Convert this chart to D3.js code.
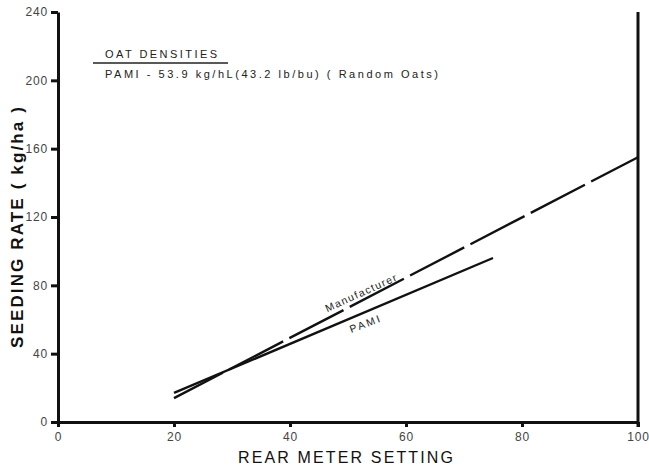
<!DOCTYPE html>
<html><head><meta charset="utf-8">
<script src="https://cdn.jsdelivr.net/npm/d3@7"></script>
<style>
body{margin:0;background:#fff;}
svg{display:block;}
</style></head>
<body>
<script>
// Data
const xTicks = [0, 20, 40, 60, 80, 100];
const yTicks = [0, 40, 80, 120, 160, 200, 240];
const manufacturerX = [20, 100];
const manufacturerY = [14, 155];
const pamiX = [20, 75];
const pamiY = [17, 96];
const titleText = "OAT DENSITIES";
const subtitleText = "PAMI - 53.9 kg/hL(43.2 lb/bu) ( Random Oats)";
const xLabel = "REAR METER SETTING";
const yLabel = "SEEDING RATE ( kg/ha )";

const W = 649, H = 467;
const svg = d3.select("body").append("svg").attr("width", W).attr("height", H);

const x = d3.scaleLinear().domain([0, 100]).range([58, 638]);
const y = d3.scaleLinear().domain([0, 240]).range([422, 12]);

const font = "'Liberation Sans', Arial, sans-serif";

// X axis
const gx = svg.append("g").attr("transform", `translate(0,${y(0)})`)
  .call(d3.axisBottom(x).tickValues(xTicks).tickSize(5).tickPadding(5).tickSizeOuter(0));
gx.select(".domain").attr("stroke", "#111").attr("stroke-width", 3);
gx.selectAll(".tick line").attr("stroke", "#111").attr("stroke-width", 3);
gx.selectAll(".tick text").attr("font-family", font).attr("font-size", 12).attr("letter-spacing", 0.8).attr("fill", "#444");

// Y axis
const gy = svg.append("g").attr("transform", `translate(${x(0)},0)`)
  .call(d3.axisLeft(y).tickValues(yTicks).tickSize(7).tickPadding(3).tickSizeOuter(0));
gy.select(".domain").attr("stroke", "#111").attr("stroke-width", 3);
gy.selectAll(".tick line").attr("stroke", "#111").attr("stroke-width", 3);
gy.selectAll(".tick text").attr("font-family", font).attr("font-size", 12).attr("letter-spacing", 0.8).attr("fill", "#444");

// Right frame line
svg.append("line")
  .attr("x1", x(100)).attr("x2", x(100))
  .attr("y1", y(0) + 5).attr("y2", y(240))
  .attr("stroke", "#111").attr("stroke-width", 3);

// Lines
const line = d3.line().x(d => x(d[0])).y(d => y(d[1]));
const manu = manufacturerX.map((v, i) => [v, manufacturerY[i]]);
const pami = pamiX.map((v, i) => [v, pamiY[i]]);

svg.append("path").datum(pami).attr("d", line)
  .attr("fill", "none").attr("stroke", "#111").attr("stroke-width", 2.4);
svg.append("path").datum(manu).attr("d", line)
  .attr("fill", "none").attr("stroke", "#111").attr("stroke-width", 2.4)
  .attr("stroke-dasharray", "61,7").attr("stroke-dashoffset", 6);

// Line labels
function angleOf(pts) {
  const dx = x(pts[1][0]) - x(pts[0][0]);
  const dy = y(pts[1][1]) - y(pts[0][1]);
  return Math.atan2(dy, dx) * 180 / Math.PI;
}
svg.append("text")
  .attr("transform", `translate(363,296) rotate(${angleOf(manu) + 3})`)
  .attr("text-anchor", "middle")
  .attr("font-family", font).attr("font-size", 10.5).attr("letter-spacing", 1.4)
  .attr("fill", "#222").text("Manufacturer");
svg.append("text")
  .attr("transform", `translate(367,327) rotate(${angleOf(pami) + 2})`)
  .attr("text-anchor", "middle")
  .attr("font-family", font).attr("font-size", 10.5).attr("letter-spacing", 2.2)
  .attr("fill", "#222").text("PAMI");

// Legend block
svg.append("text").attr("x", 105).attr("y", 58)
  .attr("font-family", font).attr("font-size", 11).attr("fill", "#222")
  .attr("textLength", 112).attr("lengthAdjust", "spacing").text(titleText);
svg.append("line").attr("x1", 93).attr("x2", 228).attr("y1", 63).attr("y2", 63)
  .attr("stroke", "#222").attr("stroke-width", 1.3);
svg.append("text").attr("x", 105).attr("y", 78)
  .attr("font-family", font).attr("font-size", 11).attr("fill", "#222")
  .attr("textLength", 333).attr("lengthAdjust", "spacing").text(subtitleText);

// Axis titles
svg.append("text").attr("x", 238).attr("y", 463)
  .attr("font-family", font).attr("font-size", 16).attr("fill", "#111")
  .attr("textLength", 215).attr("lengthAdjust", "spacing").text(xLabel);
svg.append("text")
  .attr("transform", "translate(23,348) rotate(-90)")
  .attr("font-family", font).attr("font-size", 17).attr("font-weight", "bold").attr("fill", "#111")
  .attr("textLength", 241).attr("lengthAdjust", "spacing").text(yLabel);
</script>
</body></html>
